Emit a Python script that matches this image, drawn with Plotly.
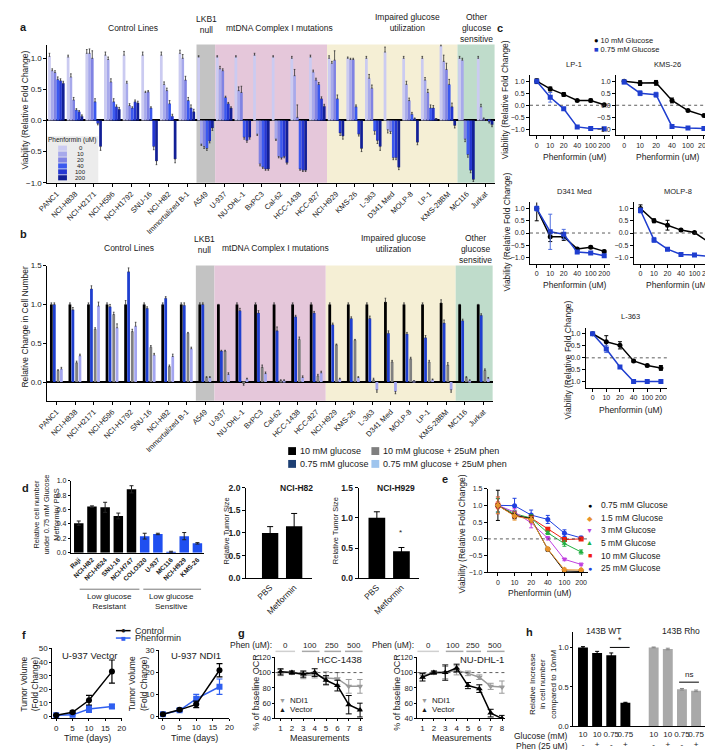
import plotly.graph_objects as go

W, H = 713, 750
FONT = "Liberation Sans, Arial, Helvetica, sans-serif"
TXT = "#1a1a1a"

# ---------------- data ----------------
cell_lines = ["PANC1", "NCI-H838", "NCI-H2171", "NCI-H596", "NCI-H1792", "SNU-16", "NCI-H82",
              "Immortalized B-1", "A549", "U-937", "NU-DHL-1", "BxPC3", "Cal-62", "HCC-1438",
              "HCC-827", "NCI-H929", "KMS-26", "L-363", "D341 Med", "MOLP-8", "LP-1",
              "KMS-28BM", "MC116", "Jurkat"]
phen_doses = ["0", "10", "20", "40", "100", "200"]

# panel a: viability per cell line at 0,10,20,40,100,200 uM phenformin
viab_a = [
    [1.03, 0.80, 0.77, 0.66, 0.64, 0.60],
    [1.02, 0.70, 0.33, 0.17, 0.14, 0.07],
    [1.08, 1.08, 1.00, 0.30, -0.05, -0.42],
    [1.05, 0.98, 0.62, 0.30, 0.22, 0.18],
    [1.05, 0.60, 0.24, 0.20, 0.30, 0.28],
    [1.05, 0.45, 0.46, 0.20, -0.42, -0.65],
    [1.05, 0.58, 0.48, 0.27, 0.07, -0.62],
    [1.08, 1.00, 0.65, 0.32, 0.20, 0.14],
    [1.02, -0.38, -0.42, -0.45, -0.33, -0.12],
    [1.02, 0.83, 0.80, 0.37, 0.27, 0.20],
    [1.02, 0.48, 0.45, -0.27, -0.32, -0.27],
    [1.05, -0.22, -0.70, -0.75, -0.78, -0.78],
    [1.02, -0.30, -0.58, -0.60, -0.58, -0.68],
    [1.00, 0.72, 0.05, -0.78, -0.80, -0.80],
    [1.02, 0.78, 0.65, 0.58, 0.35, 0.23],
    [1.00, 0.92, 0.97, 0.35, -0.20, -0.25],
    [1.00, 0.98, 0.98, 0.22, -0.22, -0.45],
    [1.00, 0.68, 0.52, -0.17, -0.32, -0.42],
    [1.10, -0.15, -0.18, -0.60, -0.60, -0.75],
    [1.00, 0.58, 0.32, 0.10, 0.02, -0.35],
    [1.00, 0.65, 0.45, 0.20, 0.20, 0.02],
    [1.20, 0.95, 0.82, 0.58, 0.22, -0.08],
    [1.00, 0.97, -0.30, -0.55, -0.80, -0.95],
    [1.00, 0.22, 0.02, 0.00, -0.02, -0.07],
]
err_a = [
    [0.05, 0.03, 0.03, 0.04, 0.03, 0.03],
    [0.03, 0.05, 0.04, 0.02, 0.02, 0.02],
    [0.06, 0.07, 0.12, 0.05, 0.02, 0.06],
    [0.05, 0.04, 0.05, 0.05, 0.03, 0.03],
    [0.06, 0.03, 0.03, 0.02, 0.03, 0.03],
    [0.05, 0.02, 0.02, 0.02, 0.05, 0.06],
    [0.05, 0.04, 0.04, 0.05, 0.03, 0.06],
    [0.05, 0.06, 0.06, 0.05, 0.05, 0.04],
    [0.02, 0.02, 0.03, 0.03, 0.03, 0.04],
    [0.02, 0.04, 0.03, 0.02, 0.02, 0.02],
    [0.02, 0.06, 0.10, 0.03, 0.03, 0.03],
    [0.03, 0.02, 0.03, 0.02, 0.02, 0.02],
    [0.02, 0.02, 0.02, 0.02, 0.02, 0.02],
    [0.03, 0.10, 0.20, 0.02, 0.02, 0.02],
    [0.03, 0.03, 0.03, 0.03, 0.03, 0.03],
    [0.04, 0.03, 0.15, 0.06, 0.04, 0.05],
    [0.02, 0.02, 0.02, 0.03, 0.03, 0.05],
    [0.03, 0.06, 0.05, 0.05, 0.05, 0.06],
    [0.08, 0.05, 0.03, 0.03, 0.03, 0.04],
    [0.03, 0.05, 0.04, 0.03, 0.02, 0.04],
    [0.03, 0.04, 0.05, 0.05, 0.04, 0.01],
    [0.05, 0.10, 0.10, 0.08, 0.06, 0.04],
    [0.03, 0.03, 0.04, 0.04, 0.04, 0.03],
    [0.03, 0.04, 0.02, 0.01, 0.02, 0.03],
]
a_colors = ["#cbcbf1", "#a7a9eb", "#8083e3", "#3b58ee", "#2437d2", "#121f96"]

# panel b: relative change in cell number
b_glc10 = [1.0, 1.0, 1.0, 1.0, 1.0, 1.0, 1.0, 1.0, 1.0, 1.0, 1.0, 1.0, 1.0, 1.0, 1.0, 1.0, 1.0, 1.0,
           1.03, 1.0, 1.0, 1.02, 1.0, 1.0]
b_glc075 = [1.0, 0.93, 1.20, 0.97, 1.42, 0.95, 1.08, 0.99, 1.0, 0.40, 0.92, 0.89, 0.66, 0.84, 0.89,
            0.74, 0.82, 0.82, 0.63, 0.62, 0.57, 0.76, 0.79, 0.86]
b_glc10_phen = [0.15, 0.25, 0.68, 0.87, 0.65, 0.45, 0.20, 0.63, 0.06, 0.40, -0.02, 0.19, 0.02, 0.55,
                0.08, 0.48, 0.54, 0.03, 0.26, 0.30, 0.26, 0.22, 0.06, 0.15]
b_glc075_phen = [0.17, 0.34, 0.98, 0.70, 0.72, 0.35, 0.33, 0.43, 0.06, 0.10, 0.04, 0.11, 0.02, 0.06,
                 0.12, 0.04, 0.06, -0.10, -0.12, 0.01, 0.03, -0.10, 0.02, 0.05]
err_b10 = [0.02, 0.02, 0.02, 0.02, 0.05, 0.02, 0.02, 0.02, 0.02, 0.0, 0.02, 0.02, 0.02, 0.02, 0.02,
           0.02, 0.02, 0.02, 0.05, 0.02, 0.02, 0.04, 0.0, 0.0]
err_b075 = [0.02, 0.03, 0.04, 0.03, 0.05, 0.02, 0.02, 0.03, 0.02, 0.01, 0.03, 0.03, 0.05, 0.02, 0.02,
            0.02, 0.02, 0.03, 0.03, 0.02, 0.03, 0.04, 0.02, 0.02]
err_b10p = [0.01, 0.02, 0.02, 0.03, 0.03, 0.02, 0.02, 0.01, 0.01, 0.01, 0.02, 0.03, 0.01, 0.03, 0.02,
            0.01, 0.01, 0.02, 0.02, 0.02, 0.02, 0.03, 0.01, 0.02]
err_b075p = [0.02, 0.02, 0.05, 0.05, 0.05, 0.02, 0.03, 0.02, 0.01, 0.02, 0.01, 0.02, 0.01, 0.02, 0.02,
             0.01, 0.01, 0.03, 0.03, 0.01, 0.01, 0.03, 0.01, 0.01]
b_colors = ["#000000", "#1f3fcf", "#808080", "#a4a6f0"]

# panel c: dose curves
lp1_10 = [1.0, 0.68, 0.45, 0.20, 0.20, 0.02]
lp1_075 = [1.0, 0.33, -0.15, -0.90, -0.97, -0.98]
lp1_10_err = [0.10, 0.08, 0.08, 0.04, 0.06, 0.03]
lp1_075_err = [0.05, 0.20, 0.05, 0.04, 0.03, 0.03]
kms26_10 = [1.0, 0.92, 0.93, 0.20, -0.22, -0.43]
kms26_075 = [0.97, 0.50, 0.44, -0.88, -0.95, -0.97]
kms26_10_err = [0.05, 0.10, 0.10, 0.10, 0.04, 0.04]
kms26_075_err = [0.08, 0.10, 0.10, 0.04, 0.03, 0.03]
d341_10 = [1.0, -0.15, -0.15, -0.65, -0.58, -0.75]
d341_075 = [1.0, 0.05, -0.05, -0.78, -0.82, -0.93]
d341_10_err = [0.50, 0.20, 0.15, 0.05, 0.05, 0.05]
d341_075_err = [0.10, 0.72, 0.20, 0.06, 0.04, 0.05]
molp8_10 = [1.0, 0.50, 0.32, 0.12, 0.02, -0.35]
molp8_075 = [0.92, -0.28, -0.66, -0.88, -0.90, -0.95]
molp8_10_err = [0.15, 0.08, 0.20, 0.04, 0.03, 0.10]
molp8_075_err = [0.10, 0.10, 0.06, 0.04, 0.04, 0.03]
l363_10 = [1.0, 0.67, 0.52, -0.13, -0.32, -0.42]
l363_075 = [1.0, 0.37, -0.38, -0.98, -0.98, -0.98]
l363_10_err = [0.05, 0.25, 0.15, 0.04, 0.05, 0.10]
l363_075_err = [0.05, 0.15, 0.05, 0.03, 0.03, 0.03]

# panel d
d_lines = ["Raji", "NCI-H82", "NCI-H524", "SNU-16", "NCI-H747", "COLO320", "U-937", "MC116",
           "NCI-H929", "KMS-26"]
d_values = [0.41, 0.64, 0.63, 0.51, 0.88, 0.23, 0.26, 0.01, 0.23, 0.13]
d_err = [0.03, 0.01, 0.07, 0.04, 0.05, 0.04, 0.01, 0.01, 0.05, 0.01]
d_colors = ["#000000"] * 5 + ["#1f4ff0"] * 5

tumor_groups = ["PBS", "Metformin"]
h82_tumor = [1.0, 1.15]
h82_tumor_err = [0.14, 0.28]
h929_tumor = [1.0, 0.45]
h929_tumor_err = [0.10, 0.06]

# panel e
e_labels = ["0.75 mM Glucose", "1.5 mM Glucose", "3 mM Glucose", "5 mM Glucose", "10 mM Glucose",
            "25 mM Glucose"]
e_colors = ["#000000", "#e8922c", "#c040e0", "#20b040", "#f02010", "#2040e0"]
e_symbols = ["circle", "diamond", "triangle-down", "triangle-up", "square", "circle"]
e_glc075 = [1.0, 0.70, 0.60, -0.31, -0.96, -0.97]
e_glc15 = [1.0, 0.68, 0.58, -0.30, -0.92, -0.93]
e_glc3 = [1.0, 0.80, 0.48, 0.02, -0.61, -0.76]
e_glc5 = [1.0, 0.75, 0.62, 0.18, -0.14, -0.39]
e_glc10 = [1.0, 0.70, 0.62, 0.29, -0.02, 0.00]
e_glc25 = [1.0, 0.99, 0.71, 0.58, 0.17, 0.03]
e_err = [[0.45, 0.10, 0.10, 0.05, 0.03, 0.03],
         [0.25, 0.12, 0.10, 0.05, 0.05, 0.05],
         [0.25, 0.10, 0.15, 0.05, 0.04, 0.04],
         [0.20, 0.10, 0.10, 0.05, 0.08, 0.06],
         [0.10, 0.08, 0.08, 0.05, 0.05, 0.03],
         [0.20, 0.22, 0.15, 0.12, 0.10, 0.05]]

# panel f
days = [0, 5, 10, 17]
vec_control = [1, 3.2, 12, 33]
vec_control_err = [0.3, 0.8, 3.5, 8.5]
vec_phen = [1, 1.3, 5.5, 7.5]
vec_phen_err = [0.3, 0.3, 2.5, 1.5]
ndi_control = [1, 3, 5.5, 21]
ndi_control_err = [0.3, 0.5, 1.5, 3]
ndi_phen = [1, 2.8, 8, 13.5]
ndi_phen_err = [0.3, 0.5, 2, 3.5]

# panel g
measurements = [1, 2, 3, 4, 5, 6, 7, 8]
hcc_ndi1 = [100, 100, 97, 97, 93, 92, 82, 82]
hcc_ndi1_err = [4, 2, 5, 4, 8, 8, 9, 9]
hcc_vector = [101, 100, 98, 100, 90, 83, 58, 51]
hcc_vector_err = [4, 2, 4, 5, 6, 7, 12, 9]
nu_ndi1 = [96, 100, 100, 103, 99, 94, 82, 81]
nu_ndi1_err = [4, 2, 8, 6, 3, 3, 4, 8]
nu_vector = [94, 100, 100, 106, 83, 79, 47, 40]
nu_vector_err = [5, 2, 10, 5, 4, 5, 5, 4]
phen_steps = ["0", "100", "250", "500"]

# panel h
h_glucose = ["10", "10", "0.75", "0.75", "10", "10", "0.75", "0.75"]
h_phen = ["-", "+", "-", "+", "-", "+", "-", "+"]
h_wt = [1.0, 0.93, 0.90, 0.30]
h_wt_err = [0.01, 0.02, 0.03, 0.005]
h_rho = [1.0, 0.98, 0.47, 0.45]
h_rho_err = [0.005, 0.01, 0.01, 0.01]

# ---------------- helpers ----------------
layout = dict(width=W, height=H, margin=dict(l=0, r=0, t=0, b=0), paper_bgcolor="white",
              plot_bgcolor="rgba(0,0,0,0)", showlegend=False, barmode="overlay",
              font=dict(family=FONT, color=TXT))
annotations, shapes, traces = [], [], []
_n = [0]


def tf(size, bold=False):
    d = dict(size=size, family=FONT, color=TXT)
    if bold:
        d["weight"] = "bold"
    return d


def axes(xpx, ypx, xr, yr, xkw=None, ykw=None):
    _n[0] += 1
    s = "" if _n[0] == 1 else str(_n[0])
    base = dict(showline=True, linecolor="black", linewidth=1, ticks="outside", ticklen=3,
                tickwidth=1, tickcolor="black", showgrid=False, zeroline=False, tickfont=tf(7),
                tickangle=0)
    xa = dict(base, domain=[xpx[0] / W, xpx[1] / W], range=xr, anchor="y" + s)
    ya = dict(base, domain=[1 - ypx[1] / H, 1 - ypx[0] / H], range=yr, anchor="x" + s)
    xa.update(xkw or {})
    ya.update(ykw or {})
    layout["xaxis" + s] = xa
    layout["yaxis" + s] = ya
    return "x" + s, "y" + s


def A(text, x, y, size=8, xa="center", ya="middle", color=TXT, angle=0, bold=False):
    annotations.append(dict(text=("<b>%s</b>" % text) if bold else text, x=x / W, y=1 - y / H,
                            xref="paper", yref="paper", xanchor=xa, yanchor=ya, showarrow=False,
                            font=dict(size=size, color=color, family=FONT), textangle=angle))


def R(x0, y0, x1, y1, color):
    shapes.append(dict(type="rect", xref="paper", yref="paper", x0=x0 / W, x1=x1 / W,
                       y0=1 - y1 / H, y1=1 - y0 / H, fillcolor=color, line=dict(width=0),
                       layer="below"))


def L(x0, y0, x1, y1, color="black", width=1, dash="solid"):
    shapes.append(dict(type="line", xref="paper", yref="paper", x0=x0 / W, x1=x1 / W,
                       y0=1 - y0 / H, y1=1 - y1 / H, line=dict(color=color, width=width, dash=dash)))


def regions(xa, ya):
    for x0, x1, c in [(7.5, 8.5, "#c3c3c3"), (8.5, 14.5, "#e5c7da"), (14.5, 21.5, "#f5efd5"),
                      (21.5, 23.5, "#bfdccb")]:
        shapes.append(dict(type="rect", xref=xa, yref=ya + " domain", x0=x0, x1=x1, y0=0, y1=1,
                           fillcolor=c, line=dict(width=0), layer="below"))


def dotted(xa, ya, yv):
    shapes.append(dict(type="line", xref=xa + " domain", yref=ya, x0=0, x1=1, y0=yv, y1=yv,
                       line=dict(color="#333", width=0.8, dash="dot")))


# ---------------- panel a ----------------
xa_, ya_ = axes((30, 487), (32, 172), [-0.5, 23.5], [-1.0, 1.22],
                xkw=dict(tickvals=list(range(24)), ticktext=cell_lines, tickangle=-45,
                         tickfont=tf(7.5)),
                ykw=dict(tickvals=[-1, -0.5, 0, 0.5, 1], tickformat=".1f", zeroline=True,
                         zerolinecolor="black", zerolinewidth=1.5, tickfont=tf(8)))
regions(xa_, ya_)
for k in range(6):
    vals = [row[k] for row in viab_a]
    errs = [row[k] for row in err_a]
    up = [e if v >= 0 else 0 for v, e in zip(vals, errs)]
    dn = [e if v < 0 else 0 for v, e in zip(vals, errs)]
    traces.append(go.Bar(x=list(range(24)), y=vals, xaxis=xa_, yaxis=ya_, width=0.146,
                         offset=-0.46 + k * 0.148, marker=dict(color=a_colors[k], line=dict(width=0)),
                         error_y=dict(type="data", symmetric=False, array=up, arrayminus=dn,
                                      color="#333", thickness=0.8, width=0.8)))
A("a", 6, 14, 11, bold=True)
A("Control Lines", 117, 15, 8.5)
A("LKB1<br>null", 193, 12, 8.5)
A("mtDNA Complex I mutations", 267, 15, 8.5)
A("Impaired glucose<br>utilization", 398, 10, 8.5)
A("Other<br>glucose<br>sensitive", 468, 15, 8.5)
A("Viability (Relative Fold Change)", 7, 98, 8.5, angle=-90)
# inset legend
R(30, 125, 82, 172, "#ececec")
A("Phenformin (uM)", 55, 129, 6.5)
rows_y = [137, 143, 149, 155, 161, 167]
for k in range(6):
    R(41, rows_y[k] - 2.6, 50, rows_y[k] + 2.6, a_colors[k])
    A(phen_doses[k], 64, rows_y[k], 6)

# ---------------- panel b ----------------
xb, yb = axes((30, 485), (256, 393), [-0.5, 23.5], [-0.24, 1.5],
              xkw=dict(tickvals=list(range(24)), ticktext=cell_lines, tickangle=-45,
                       tickfont=tf(7.5)),
              ykw=dict(tickvals=[0, 0.5, 1, 1.5], tickformat=".1f", zeroline=True,
                       zerolinecolor="black", zerolinewidth=1.5, tickfont=tf(8)))
regions(xb, yb)
b_series = [b_glc10, b_glc075, b_glc10_phen, b_glc075_phen]
b_errs = [err_b10, err_b075, err_b10p, err_b075p]
b_offsets = [-0.36, -0.2, 0.0, 0.18]
for k in range(4):
    vals = b_series[k]
    up = [e if v >= 0 else 0 for v, e in zip(vals, b_errs[k])]
    dn = [e if v < 0 else 0 for v, e in zip(vals, b_errs[k])]
    traces.append(go.Bar(x=list(range(24)), y=vals, xaxis=xb, yaxis=yb, width=0.15,
                         offset=b_offsets[k], marker=dict(color=b_colors[k], line=dict(width=0)),
                         error_y=dict(type="data", symmetric=False, array=up, arrayminus=dn,
                                      color="#333", thickness=0.8, width=0.8)))
A("b", 6, 224, 11, bold=True)
A("Control Lines", 113, 238, 8.5)
A("LKB1<br>null", 191, 235, 8.5)
A("mtDNA Complex I mutations", 263, 238, 8.5)
A("Impaired glucose<br>utilization", 384, 234, 8.5)
A("Other<br>glucose<br>sensitive", 467, 239, 8.5)
A("Relative Change in Cell Number", 7, 318, 8.5, angle=-90)
# legend for b
leg_items = [(276, 444, "#000000", "10 mM glucose"), (361, 444, "#7f7f7f", "10 mM glucose + 25uM phen"),
             (276, 457, "#1d3f73", "0.75 mM glucose"), (361, 457, "#9fc5ee", "0.75 mM glucose + 25uM phen")]
for x, y, c, t in leg_items:
    R(x, y - 4, x + 8, y + 4, c)
    A(t, x + 10, y, 9, xa="left")

# ---------------- panel c ----------------
c_specs = [
    ("LP-1", lp1_10, lp1_10_err, lp1_075, lp1_075_err, (523, 605), (63, 124)),
    ("KMS-26", kms26_10, kms26_10_err, kms26_075, kms26_075_err, (611, 708), (63, 124)),
    ("D341 Med", d341_10, d341_10_err, d341_075, d341_075_err, (523, 605), (192, 254)),
    ("MOLP-8", molp8_10, molp8_10_err, molp8_075, molp8_075_err, (629, 711), (192, 254)),
    ("L-363", l363_10, l363_10_err, l363_075, l363_075_err, (580, 663), (319, 380)),
]
for name, v10, e10, v075, e075, xp, yp in c_specs:
    xc, yc = axes(xp, yp, [-0.5, 5.45], [-1.25, 1.25],
                  xkw=dict(tickvals=list(range(6)), ticktext=phen_doses, tickfont=tf(7)),
                  ykw=dict(tickvals=[-1, -0.5, 0, 0.5, 1], tickformat=".1f", tickfont=tf(7)))
    dotted(xc, yc, 0)
    traces.append(go.Scatter(x=list(range(6)), y=v10, xaxis=xc, yaxis=yc, mode="lines+markers",
                             line=dict(color="black", width=1.5), marker=dict(symbol="circle", size=5, color="black"),
                             error_y=dict(type="data", array=e10, color="black", thickness=1, width=2)))
    traces.append(go.Scatter(x=list(range(6)), y=v075, xaxis=xc, yaxis=yc, mode="lines+markers",
                             line=dict(color="#1f3ecf", width=1.5), marker=dict(symbol="square", size=5, color="#1f3ecf"),
                             error_y=dict(type="data", array=e075, color="#4f6ee0", thickness=1, width=2)))
    cx = (xp[0] + xp[1]) / 2 + 4
    A(name, cx, yp[0] - 11, 7.5)
    A("Phenformin (uM)", cx, yp[1] + 22, 8.5)
A("c", 492, 15, 11, bold=True)
A("<span style='color:black'>●</span> 10 mM Glucose", 586, 28, 7.5, xa="left")
A("<span style='color:#1f3ecf'>■</span> 0.75 mM Glucose", 586, 37, 7.5, xa="left")
A("Viability (Relative Fold Change)", 497, 88, 8.5, angle=-90)
A("Viability (Relative Fold Change)", 500, 222, 8.5, angle=-90)
A("Viability (Relative Fold Change)", 562, 352, 8.5, angle=-90)

# ---------------- panel d ----------------
xd_, yd_ = axes((54, 190), (474, 547), [-0.6, 9.5], [0, 1.0],
                xkw=dict(tickvals=list(range(10)), ticktext=d_lines, tickangle=-45,
                         tickfont=tf(6.5, True), ticks=""),
                ykw=dict(tickvals=[0, 0.2, 0.4, 0.6, 0.8, 1.0], tickformat=".1f", tickfont=tf(7),
                         ticklen=2))
traces.append(go.Bar(x=list(range(10)), y=d_values, xaxis=xd_, yaxis=yd_, width=0.72, offset=-0.36,
                     marker=dict(color=d_colors, line=dict(width=0)),
                     error_y=dict(type="data", array=d_err, color="#222", thickness=1, width=2)))
A("d", 8, 481, 11, bold=True)
A("Relative cell number<br>under 0.75 mM Glucose<br>Metformin/ PBS", 29, 508, 7.5, angle=-90)
L(63, 584, 124, 584, "#555", 0.8)
L(128, 584, 187, 584, "#555", 0.8)
A("Low glucose<br>Resistant", 93, 596, 8)
A("Low glucose<br>Sensitive", 157, 596, 8)

# tumour size panels
for name, vals, errs, xp, yr, tv, tx, ytx, lo in [
    ("NCI-H82", h82_tumor, h82_tumor_err, (233, 300), [0, 2.0], [0, 0.5, 1, 1.5, 2], 284, 212, -1.0),
    ("NCI-H929", h929_tumor, h929_tumor_err, (348, 410), [0, 1.5], [0, 0.5, 1, 1.5], 386, 324, -0.74)]:
    xt, yt = axes(xp, (481, 573), [lo, 1.73], yr,
                  xkw=dict(tickvals=[0, 1], ticktext=tumor_groups, tickangle=-45, ticks="",
                           tickfont=tf(8.5)),
                  ykw=dict(tickvals=tv, tickformat=".1f", tickfont=tf(8.5, True), ticklen=3))
    traces.append(go.Bar(x=[0, 1], y=vals, xaxis=xt, yaxis=yt, width=0.68, offset=-0.34,
                         marker=dict(color="black", line=dict(width=0)),
                         error_y=dict(type="data", array=errs, color="black", thickness=1, width=3)))
    A(name, tx, 481, 8.5, bold=True)
    A("Relative Tumor Size", ytx, 525, 7.5, angle=-90)
A("*", 391, 527, 8)

# ---------------- panel e ----------------
xe, ye = axes((480, 582), (482, 567), [-0.6, 5.4], [-1.0, 1.5],
              xkw=dict(tickvals=list(range(6)), ticktext=phen_doses, tickfont=tf(7)),
              ykw=dict(tickvals=[-1, -0.5, 0, 0.5, 1, 1.5], tickformat=".1f", tickfont=tf(7)))
dotted(xe, ye, 0)
e_series = [e_glc075, e_glc15, e_glc3, e_glc5, e_glc10, e_glc25]
for i in [5, 4, 3, 2, 0, 1]:
    traces.append(go.Scatter(x=list(range(6)), y=e_series[i], xaxis=xe, yaxis=ye, mode="lines+markers",
                             line=dict(color=e_colors[i], width=1),
                             marker=dict(symbol=e_symbols[i], size=5, color=e_colors[i]),
                             error_y=dict(type="data", array=e_err[i], color=e_colors[i], thickness=1, width=2)))
A("e", 436, 472, 11, bold=True)
A("Viability (Relative Fold Change)", 453, 528, 8.5, angle=-90)
A("Phenformin (uM)", 533, 588, 8.5)
e_glyph = ["●", "◆", "▼", "▲", "■", "●"]
for i, yy in enumerate([499, 512, 524, 537, 550, 563]):
    A("<span style='color:%s'>%s</span>" % (e_colors[i], e_glyph[i]), 584, yy, 7)
    A(e_labels[i], 593, yy, 8.5, xa="left")

# ---------------- panel f ----------------
for title, ctl, ctl_e, ph, ph_e, xp, yp, yr, ytk, tx, ytx in [
    ("U-937 Vector", vec_control, vec_control_err, vec_phen, vec_phen_err, (35, 106), (644, 714.5),
     [-1, 50], [0, 10, 20, 30, 40, 50], 73, 12),
    ("U-937 NDI1", ndi_control, ndi_control_err, ndi_phen, ndi_phen_err, (144, 216), (646, 714.3),
     [-0.6, 30], [0, 10, 20, 30], 182, 123)]:
    xf, yf = axes(xp, yp, [-1.2, 20], yr,
                  xkw=dict(tickvals=[0, 5, 10, 15, 20], tickfont=tf(8), ticklen=2),
                  ykw=dict(tickvals=ytk, tickfont=tf(8), ticklen=2))
    traces.append(go.Scatter(x=days, y=ph, xaxis=xf, yaxis=yf, mode="lines+markers",
                             line=dict(color="#2f5ff0", width=1.5),
                             marker=dict(symbol="square", size=6, color="#2f5ff0"),
                             error_y=dict(type="data", array=ph_e, color="#2f5ff0", thickness=1.2, width=3)))
    traces.append(go.Scatter(x=days, y=ctl, xaxis=xf, yaxis=yf, mode="lines+markers",
                             line=dict(color="black", width=1.5),
                             marker=dict(symbol="circle", size=6, color="black"),
                             error_y=dict(type="data", array=ctl_e, color="black", thickness=1.2, width=3)))
    A(title, tx, 651, 9.5)
    A("Time (days)", tx - 2, 735, 9)
    A("Tumor Volume<br>(Fold Change)", ytx, 680, 8.5, angle=-90)
A("f", 6, 630, 11, bold=True)
L(100, 626, 115, 626, "black", 1.5)
L(100, 633.5, 115, 633.5, "#2f5ff0", 1.5)
A("●", 108, 626, 8)
A("<span style='color:#2f5ff0'>■</span>", 108, 633.5, 8)
A("Control", 117, 626, 9, xa="left")
A("Phenformin", 117, 633.5, 9, xa="left")

# ---------------- panel g ----------------
for title, ndi, ndi_e, vec, vec_e, xp, ytx, lab_x, line_x, phen_x0 in [
    ("HCC-1438", hcc_ndi1, hcc_ndi1_err, hcc_vector, hcc_vector_err, (263, 352), 243,
     [273, 298, 321, 343], [(263, 283), (290, 308), (313, 330), (334, 352)], 262),
    ("NU-DHL-1", nu_ndi1, nu_ndi1_err, nu_vector, nu_vector_err, (408, 497), 387,
     [419, 444, 465, 487], [(408, 430), (437, 455), (458, 473), (479, 497)], 407)]:
    xg, yg = axes(xp, (653, 715), [0.55, 8.22], [40, 120],
                  xkw=dict(tickvals=measurements, tickfont=tf(8), ticklen=2),
                  ykw=dict(tickvals=[40, 60, 80, 100, 120], tickfont=tf(7.5), ticklen=2))
    dotted(xg, yg, 100)
    traces.append(go.Scatter(x=measurements, y=ndi, xaxis=xg, yaxis=yg, mode="lines+markers",
                             line=dict(color="#9a9a9a", width=1.5),
                             marker=dict(symbol="triangle-down", size=6, color="#9a9a9a"),
                             error_y=dict(type="data", array=ndi_e, color="#9a9a9a", thickness=1, width=3)))
    traces.append(go.Scatter(x=measurements, y=vec, xaxis=xg, yaxis=yg, mode="lines+markers",
                             line=dict(color="black", width=1.5),
                             marker=dict(symbol="triangle-up", size=6, color="black"),
                             error_y=dict(type="data", array=vec_e, color="black", thickness=1, width=3)))
    A(title, xp[1] + 1, 655, 9.5, xa="right")
    A("% of baseline OCR", ytx, 688, 9, angle=-90)
    A("Measurements", (xp[0] + xp[1]) / 2 + 1, 735, 9)
    A("Phen (uM):", phen_x0, 641, 8.5, xa="right")
    for j, (lx, (l0, l1)) in enumerate(zip(lab_x, line_x)):
        A(phen_steps[j], lx, 641, 8)
        L(l0, 647, l1, 647, "#d0d0d0" if j == 0 else "#a8a8a8", 1.5)
    A("<span style='color:#9a9a9a'>▼</span>", xp[0] + 7, 697, 7)
    A("NDI1", xp[0] + 13, 697, 8, xa="left")
    A("▲", xp[0] + 7, 706, 7)
    A("Vector", xp[0] + 13, 706, 8, xa="left")
A("g", 228, 628, 11, bold=True)

# ---------------- panel h ----------------
xh, yh = axes((567, 710), (627, 723), [-0.7, 9.2], [0, 1.2],
              xkw=dict(tickvals=[0, 1, 2, 3, 5, 6, 7, 8],
                       ticktext=["%s<br>%s" % (g, p) for g, p in zip(h_glucose, h_phen)],
                       ticks="", tickfont=tf(8)),
              ykw=dict(tickvals=[0, 0.5, 1.0], tickformat=".1f", tickfont=tf(7.5), ticklen=2))
traces.append(go.Bar(x=[0, 1, 2, 3], y=h_wt, xaxis=xh, yaxis=yh, width=0.7, offset=-0.35,
                     marker=dict(color="black", line=dict(width=0)),
                     error_y=dict(type="data", array=h_wt_err, color="black", thickness=1, width=2)))
traces.append(go.Bar(x=[5, 6, 7, 8], y=h_rho, xaxis=xh, yaxis=yh, width=0.7, offset=-0.35,
                     marker=dict(color="#a9a9a9", line=dict(width=0)),
                     error_y=dict(type="data", array=h_rho_err, color="#888", thickness=1, width=2)))
shapes.append(dict(type="line", xref=xh, yref=yh, x0=1.9, x1=3.3, y0=1.0, y1=1.0,
                   line=dict(color="black", width=1)))
shapes.append(dict(type="line", xref=xh, yref=yh, x0=6.8, x1=8.2, y0=0.56, y1=0.56,
                   line=dict(color="black", width=1)))
annotations.append(dict(text="*", xref=xh, yref=yh, x=2.6, y=1.0, yanchor="bottom", showarrow=False,
                        font=dict(size=9, family=FONT, color=TXT)))
annotations.append(dict(text="ns", xref=xh, yref=yh, x=7.5, y=0.57, yanchor="bottom", showarrow=False,
                        font=dict(size=8, family=FONT, color=TXT)))
A("h", 523, 627, 11, bold=True)
A("143B WT", 598, 626, 8.5)
A("143B Rho", 677, 626, 8.5)
A("Relative Increase<br>in cell number<br>compared to 10mM", 536, 680, 8, angle=-90)
A("Glucose (mM)", 564, 733, 8.5, xa="right")
A("Phen (25 uM)", 564, 743, 8.5, xa="right")

layout["annotations"] = annotations
layout["shapes"] = shapes
fig = go.Figure(data=traces, layout=layout)
fig.write_html("out.html")
